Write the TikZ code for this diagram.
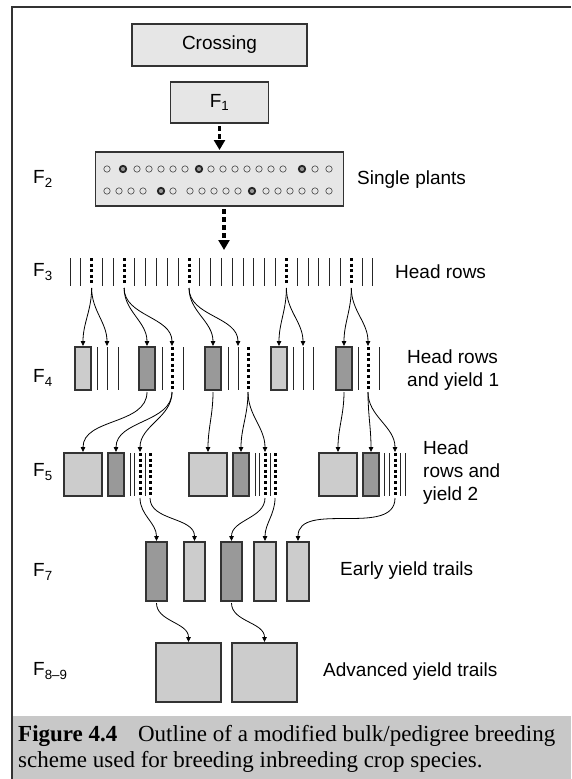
\documentclass[tikz,border=0pt]{standalone}
\usepackage{fontspec}
\setmainfont{Liberation Serif}
\setsansfont{Liberation Sans}
\usetikzlibrary{arrows.meta,positioning}

\definecolor{panelgray}{HTML}{E6E6E6}
\definecolor{plotlight}{HTML}{CCCCCC}
\definecolor{plotdark}{HTML}{999999}
\definecolor{edgegray}{HTML}{333333}
\definecolor{captiongray}{HTML}{C8C8C8}

\begin{document}
\begin{tikzpicture}[
    x=1pt, y=-1pt,
    font=\sffamily\fontsize{19}{23}\selectfont,
    panel/.style={rectangle, draw=edgegray, fill=panelgray, line width=1.1pt, inner sep=0pt, outer sep=0pt},
    lightplot/.style={rectangle, draw=edgegray, fill=plotlight, line width=1.1pt, inner sep=0pt, outer sep=0pt, minimum width=16pt, minimum height=43pt, anchor=north west},
    darkplot/.style={lightplot, fill=plotdark},
    rowline/.style={line width=1pt, black!85},
    selrow/.style={line width=3pt, dash pattern=on 3pt off 2.6pt},
    seed/.style={line width=0.6pt, black!75},
    chosen/.style={line width=1.8pt, black!85, fill=plotdark},
    pick/.style={-{Stealth[length=5pt, width=4.5pt, inset=0pt]}, line width=0.8pt, shorten <=2pt, shorten >=1pt},
    advance/.style={-{Triangle[length=10pt, width=11pt]}, line width=3.5pt, dash pattern=on 5pt off 3pt, shorten <=3pt, shorten >=2pt},
    gen/.style={anchor=west, inner sep=0pt},
    stage/.style={anchor=west, inner sep=0pt, align=left}
]
\useasboundingbox (0,0) rectangle (571,779);

% --- Frame and caption band ---
\fill[captiongray] (12,716) rectangle (571,779);
\draw[edgegray, line width=1.2pt] (12,779) -- (12,7) -- (571,7);

% --- Crossing and F1 ---
\node[panel, minimum width=175pt, minimum height=42pt] (crossing) at (219.5,45) {Crossing};
\node[panel, minimum width=98pt, minimum height=41pt, below=16pt of crossing] (f1) {F\textsubscript{1}};

% --- F2 single plants ---
\node[panel, minimum width=248pt, minimum height=54pt, below=29pt of f1] (f2) {};
\foreach \x in {107,123,137,149,161,173,185,199,211,223,235,247,259,271,283,302,315,329}
    \draw[seed] (\x,169) circle (3.2pt);
\foreach \x in {107,119,131,143,161,173,190,202,214,226,238,252,266,278,290,302,315,329}
    \draw[seed] (\x,191) circle (3.2pt);
\foreach \x in {123,199,302}
    \draw[chosen] (\x,169) circle (3.2pt);
\foreach \x in {161,252}
    \draw[chosen] (\x,191) circle (3.2pt);

\draw[advance] (f1) -- (f2);

% --- F3 head rows ---
\foreach \i in {0,...,28} {
    \coordinate (f3t\i) at ({70+10.82*\i},258);
    \coordinate (f3b\i) at ({70+10.82*\i},286);
}
\foreach \i in {0,1,3,4,6,7,8,9,10,12,13,14,15,16,17,18,19,21,22,23,24,25,27,28}
    \draw[rowline] (f3t\i) -- (f3b\i);
\foreach \i in {2,5,11,20,26}
    \draw[selrow] (f3t\i) -- (f3b\i);

\coordinate (f3in) at (224,252);
\draw[advance] (f2.south -| f3in) -- (f3in);

% --- F4 head rows and yield 1 ---
\node[lightplot] (f4A) at (75,347) {};
\node[darkplot]  (f4B) at (139,347) {};
\node[darkplot]  (f4C) at (205,347) {};
\node[lightplot] (f4D) at (271,347) {};
\node[darkplot]  (f4E) at (336,347) {};
\foreach \nm/\x in {f4a1/97, f4a2/107, f4a3/118, f4b1/162, f4b3/183, f4c1/228, f4c2/238,
                    f4d1/293, f4d2/303, f4d3/313, f4e1/358, f4e3/379} {
    \coordinate (\nm) at (\x,347);
    \draw[rowline] (\nm) -- ++(0,43);
}
\foreach \nm/\x in {f4b2/172, f4c3/248, f4e2/368} {
    \coordinate (\nm) at (\x,347);
    \draw[selrow] (\nm) -- ++(0,43);
}

% --- F5 head rows and yield 2 ---
\node[lightplot, minimum width=38pt] (f5A) at (64,453) {};
\node[darkplot]  (f5Ad) at (108,453) {};
\node[lightplot, minimum width=38pt] (f5B) at (189,453) {};
\node[darkplot]  (f5Bd) at (233,453) {};
\node[lightplot, minimum width=38pt] (f5C) at (319,453) {};
\node[darkplot]  (f5Cd) at (363,453) {};
\foreach \x in {130,134,145,255,259,270,384,389,400,405}
    \draw[rowline] (\x,453) -- ++(0,43);
\foreach \nm/\x in {f5As1/140, f5As2/150, f5Bs1/265, f5Bs2/275, f5Cs1/395} {
    \coordinate (\nm) at (\x,453);
    \draw[selrow] (\nm) -- ++(0,43);
}

% --- F7 early yield trails ---
\node[darkplot,  minimum width=21pt, minimum height=59pt] (f7a) at (146,542) {};
\node[lightplot, minimum width=21pt, minimum height=59pt] (f7b) at (184,542) {};
\node[darkplot,  minimum width=21pt, minimum height=59pt] (f7c) at (221,542) {};
\node[lightplot, minimum width=22pt, minimum height=59pt] (f7d) at (254,542) {};
\node[lightplot, minimum width=22pt, minimum height=59pt] (f7e) at (287,542) {};

% --- F8-9 advanced yield trails ---
\node[lightplot, minimum width=65pt, minimum height=59pt] (f89a) at (156,643) {};
\node[lightplot, minimum width=65pt, minimum height=59pt] (f89b) at (232,643) {};

% --- Selection arrows ---
\draw[pick] (f3b2) to[out=-90, in=90] (f4A.north);
\draw[pick] (f3b2) to[out=-90, in=90] (f4a2);
\draw[pick] (f3b5) to[out=-90, in=90] (f4B.north);
\draw[pick] (f3b5) to[out=-90, in=90] (f4b2);
\draw[pick] (f3b11) to[out=-90, in=90] (f4C.north);
\draw[pick] (f3b11) to[out=-90, in=90] (f4c2);
\draw[pick] (f3b20) to[out=-90, in=90] (f4D.north);
\draw[pick] (f3b20) to[out=-90, in=90] (f4d2);
\draw[pick] (f3b26) to[out=-90, in=90] (f4E.north);
\draw[pick] (f3b26) to[out=-90, in=90] (f4e2);

\draw[pick] (f4B.south) to[out=-90, in=90] (f5A.north);
\draw[pick] ([yshift=-43pt]f4b2) to[out=-90, in=90] (f5Ad.north);
\draw[pick] ([yshift=-43pt]f4b2) to[out=-90, in=90] (f5As1);
\draw[pick] (f4C.south) to[out=-90, in=90] (f5B.north);
\draw[pick] ([yshift=-43pt]f4c3) to[out=-90, in=90] (f5Bd.north);
\draw[pick] ([yshift=-43pt]f4c3) to[out=-90, in=90] (f5Bs1);
\draw[pick] (f4E.south) to[out=-90, in=90] (f5C.north);
\draw[pick] ([yshift=-43pt]f4e2) to[out=-90, in=90] (f5Cd.north);
\draw[pick] ([yshift=-43pt]f4e2) to[out=-90, in=90] (f5Cs1);

\draw[pick] ([yshift=-43pt]f5As1) to[out=-90, in=90] (f7a.north);
\draw[pick] ([yshift=-43pt]f5As2) to[out=-90, in=90] (f7b.north);
\draw[pick] ([yshift=-43pt]f5Bs1) to[out=-90, in=90] (f7c.north);
\draw[pick] ([yshift=-43pt]f5Bs2) to[out=-90, in=90] (f7d.north);
\draw[pick] ([yshift=-43pt]f5Cs1) to[out=-90, in=90] (f7e.north);

\draw[pick] (f7a.south) to[out=-90, in=90] (f89a.north);
\draw[pick] (f7c.south) to[out=-90, in=90] (f89b.north);

% --- Generation labels ---
\node[gen] (gen2) at (33,179) {F\textsubscript{2}};
\node[gen] (gen3) at (33,272) {F\textsubscript{3}};
\node[gen] (gen4) at (33,378) {F\textsubscript{4}};
\node[gen] (gen5) at (33,472) {F\textsubscript{5}};
\node[gen] (gen7) at (33,572) {F\textsubscript{7}};
\node[gen] (gen89) at (33,671) {F\textsubscript{8--9}};

% --- Stage labels ---
\node[stage] (plants) at (357,180) {Single plants};
\node[stage] (headrows) at (395,272) {Head rows};
\node[stage] (yield1) at (407,370) {Head rows\\and yield 1};
\node[stage] (yield2) at (423,473) {Head\\rows and\\yield 2};
\node[stage] (early) at (340,571) {Early yield trails};
\node[stage] (advanced) at (323,672) {Advanced yield trails};

% --- Caption ---
\node[anchor=north west, inner sep=0pt, align=left,
      font=\rmfamily\fontsize{23}{26}\selectfont] (caption) at (18,725)
    {\textbf{Figure 4.4}\hspace{0.9em}Outline of a modified bulk/pedigree breeding\\
     scheme used for breeding inbreeding crop species.};

\end{tikzpicture}
\end{document}
